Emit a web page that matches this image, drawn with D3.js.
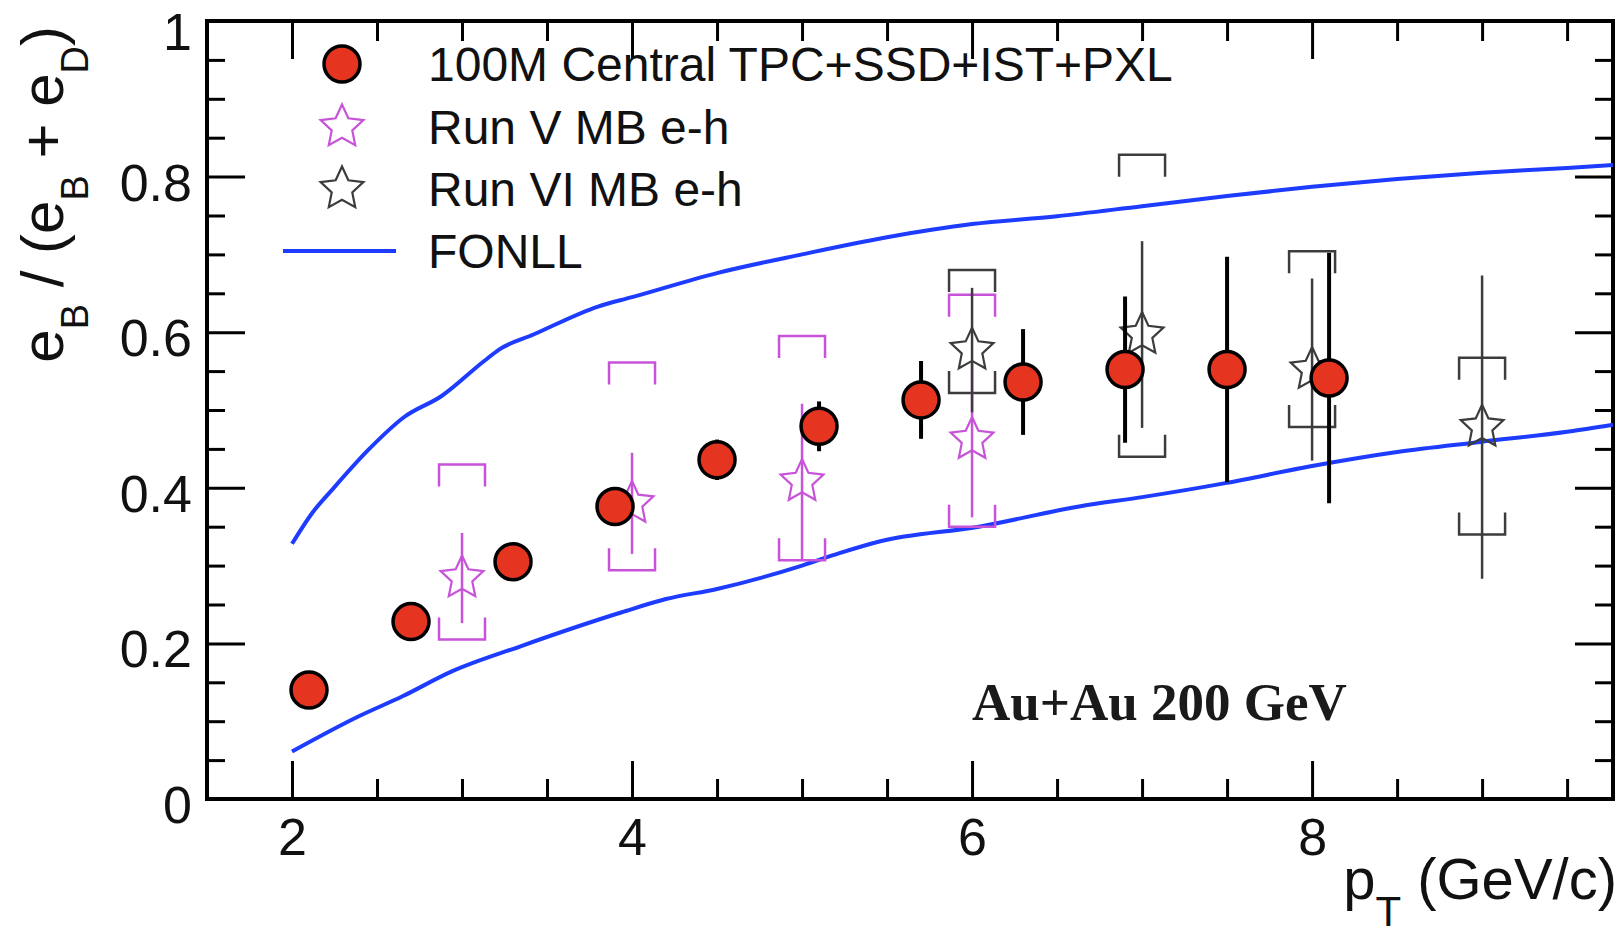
<!DOCTYPE html>
<html>
<head>
<meta charset="utf-8">
<script src="https://cdn.jsdelivr.net/npm/d3@7"></script>
<style>
  body { margin: 0; background: #fff; }
</style>
</head>
<body>
<div id="chart"></div>
<script>
// SVG dims
var width = 1623;
var height = 940;

// 100M Central TPC+SSD+IST+PXL (red circles)
var centralPt = [2.1, 2.7, 3.3, 3.9, 4.5, 5.1, 5.7, 6.3, 6.9, 7.5, 8.1];
var centralVal = [0.140, 0.228, 0.305, 0.376, 0.436, 0.479, 0.513, 0.536, 0.552, 0.552, 0.541];
var centralErr = [0.024, 0.024, 0.024, 0.024, 0.026, 0.032, 0.05, 0.068, 0.094, 0.145, 0.161];

// Run V MB e-h (magenta stars)
var run5Pt = [3, 4, 5, 6];
var run5Val = [0.284, 0.38, 0.408, 0.462];
var run5Stat = [0.058, 0.065, 0.10, 0.10];
var run5SysLow = [0.205, 0.294, 0.307, 0.35];
var run5SysHigh = [0.43, 0.561, 0.595, 0.648];

// Run VI MB e-h (black stars)
var run6Pt = [6, 7, 8, 9];
var run6Val = [0.577, 0.597, 0.552, 0.478];
var run6Stat = [0.08, 0.12, 0.117, 0.195];
var run6SysLow = [0.522, 0.44, 0.478, 0.34];
var run6SysHigh = [0.68, 0.828, 0.704, 0.567];

// FONLL upper and lower curves
var fonllUpperPt = [2.0, 2.12, 2.23, 2.45, 2.66, 2.88, 3.13, 3.22, 3.42, 3.8, 4.0, 4.5, 5.0, 5.5, 6.0, 6.5, 7.0, 7.5, 8.0, 8.5, 9.0, 9.5, 9.77];
var fonllUpperVal = [0.328, 0.368, 0.396, 0.449, 0.491, 0.518, 0.563, 0.578, 0.597, 0.633, 0.645, 0.676, 0.700, 0.722, 0.739, 0.749, 0.762, 0.775, 0.787, 0.797, 0.805, 0.811, 0.815];
var fonllLowerPt = [2.0, 2.39, 2.65, 2.94, 3.34, 3.94, 4.2, 4.5, 5.0, 5.22, 5.455, 6.04, 6.63, 7.0, 7.49, 8.0, 8.5, 8.99, 9.5, 9.77];
var fonllLowerVal = [0.061, 0.106, 0.132, 0.164, 0.196, 0.24, 0.257, 0.27, 0.30, 0.316, 0.331, 0.35, 0.376, 0.388, 0.406, 0.428, 0.446, 0.459, 0.472, 0.481];

// Axis ticks
var xTicks = [2, 4, 6, 8];
var yTicks = [0, 0.2, 0.4, 0.6, 0.8, 1];
var yTickLabels = ["0", "0.2", "0.4", "0.6", "0.8", "1"];

// Legend entries
var legendLabels = ["100M Central TPC+SSD+IST+PXL", "Run V MB e-h", "Run VI MB e-h", "FONLL"];

var sans = "'Liberation Sans', Arial, Helvetica, sans-serif";
var red = "#e5341f";
var magenta = "#c653d8";
var grey = "#3c3c3c";
var blue = "#1d3cff";

var svg = d3.select("#chart").append("svg")
    .attr("width", width).attr("height", height)
    .style("font-family", sans);

var x = d3.scaleLinear().domain([1.5, 9.77]).range([207, 1613]);
var y = d3.scaleLinear().domain([0, 1]).range([799, 21]);

var xMinor = d3.range(3, 20).map(function(i) { return i * 0.5; })
    .filter(function(v) { return v < 9.77 && xTicks.indexOf(v) < 0; });
var yMinor = d3.range(1, 20).filter(function(i) { return i % 4 != 0; })
    .map(function(i) { return i * 0.05; });

function styleAxis(g) {
    g.select(".domain").remove();
    g.selectAll(".tick line").attr("stroke", "#000").attr("stroke-width", 3);
    g.selectAll(".tick text").attr("fill", "#111").attr("font-size", 52)
        .style("font-family", sans);
}

// bottom axis
svg.append("g").attr("transform", "translate(0,799)")
    .call(d3.axisBottom(x).tickValues(xTicks).tickSizeInner(-38).tickSizeOuter(0)
        .tickPadding(19).tickFormat(d3.format("d")))
    .call(styleAxis);
svg.append("g").attr("transform", "translate(0,799)")
    .call(d3.axisBottom(x).tickValues(xMinor).tickSizeInner(-20).tickSizeOuter(0).tickFormat(""))
    .call(styleAxis);
// top axis (mirror)
svg.append("g").attr("transform", "translate(0,21)")
    .call(d3.axisTop(x).tickValues(xTicks).tickSizeInner(-38).tickSizeOuter(0).tickFormat(""))
    .call(styleAxis);
svg.append("g").attr("transform", "translate(0,21)")
    .call(d3.axisTop(x).tickValues(xMinor).tickSizeInner(-20).tickSizeOuter(0).tickFormat(""))
    .call(styleAxis);
// left axis
svg.append("g").attr("transform", "translate(207,0)")
    .call(d3.axisLeft(y).tickValues(yTicks).tickSizeInner(-38).tickSizeOuter(0)
        .tickPadding(15).tickFormat(function(d, i) { return yTickLabels[i]; }))
    .call(styleAxis)
    .call(function(g) {
        g.selectAll(".tick text").attr("dy", function(d) { return d == 1 ? "0.55em" : "0.45em"; });
    });
svg.append("g").attr("transform", "translate(207,0)")
    .call(d3.axisLeft(y).tickValues(yMinor).tickSizeInner(-18).tickSizeOuter(0).tickFormat(""))
    .call(styleAxis);
// right axis (mirror)
svg.append("g").attr("transform", "translate(1613,0)")
    .call(d3.axisRight(y).tickValues(yTicks).tickSizeInner(-38).tickSizeOuter(0).tickFormat(""))
    .call(styleAxis);
svg.append("g").attr("transform", "translate(1613,0)")
    .call(d3.axisRight(y).tickValues(yMinor).tickSizeInner(-18).tickSizeOuter(0).tickFormat(""))
    .call(styleAxis);

// frame
svg.append("rect")
    .attr("x", x(1.5)).attr("y", y(1))
    .attr("width", x(9.77) - x(1.5)).attr("height", y(0) - y(1))
    .attr("fill", "none").attr("stroke", "#000").attr("stroke-width", 4);

// FONLL curves
var line = d3.line()
    .curve(d3.curveMonotoneX)
    .x(function(d) { return x(d[0]); })
    .y(function(d) { return y(d[1]); });
[d3.zip(fonllUpperPt, fonllUpperVal), d3.zip(fonllLowerPt, fonllLowerVal)].forEach(function(pts) {
    svg.append("path").attr("d", line(pts))
        .attr("fill", "none").attr("stroke", blue).attr("stroke-width", 4);
});

// open star marker
function starPath(R, k) {
    var pts = [];
    for (var i = 0; i < 10; i++) {
        var a = -Math.PI / 2 + i * Math.PI / 5;
        var r = i % 2 == 0 ? R : R * k;
        pts.push([r * Math.cos(a), r * Math.sin(a)]);
    }
    return "M" + pts.map(function(p) { return p[0].toFixed(2) + "," + p[1].toFixed(2); }).join("L") + "Z";
}
var star = starPath(22.5, 0.48);

// systematic brackets
function brackets(pts, lows, highs, color) {
    var w = 23, arm = 22;
    svg.append("g").selectAll("path")
        .data(pts).enter().append("path")
        .attr("d", function(d, i) {
            var cx = x(d), top = y(highs[i]), bot = y(lows[i]);
            return "M" + (cx - w) + "," + (top + arm) + "V" + top + "H" + (cx + w) + "V" + (top + arm) +
                "M" + (cx - w) + "," + (bot - arm) + "V" + bot + "H" + (cx + w) + "V" + (bot - arm);
        })
        .attr("fill", "none").attr("stroke", color).attr("stroke-width", 2.5);
}

// stat bars
function statBars(pts, vals, errs, color, w) {
    svg.append("g").selectAll("line")
        .data(pts).enter().append("line")
        .attr("x1", function(d) { return x(d); })
        .attr("x2", function(d) { return x(d); })
        .attr("y1", function(d, i) { return y(vals[i] + errs[i]); })
        .attr("y2", function(d, i) { return y(vals[i] - errs[i]); })
        .attr("stroke", color).attr("stroke-width", w);
}

function stars(pts, vals, color) {
    svg.append("g").selectAll("path")
        .data(pts).enter().append("path")
        .attr("d", star)
        .attr("transform", function(d, i) { return "translate(" + x(d) + "," + y(vals[i]) + ")"; })
        .attr("fill", "none").attr("stroke", color).attr("stroke-width", 2.2);
}

brackets(run5Pt, run5SysLow, run5SysHigh, magenta);
brackets(run6Pt, run6SysLow, run6SysHigh, grey);
statBars(run5Pt, run5Val, run5Stat, magenta, 2.5);
statBars(run6Pt, run6Val, run6Stat, grey, 2.5);
stars(run5Pt, run5Val, magenta);
stars(run6Pt, run6Val, grey);

// central points
statBars(centralPt, centralVal, centralErr, "#000", 4);
svg.append("g").selectAll("circle")
    .data(centralPt).enter().append("circle")
    .attr("cx", function(d) { return x(d); })
    .attr("cy", function(d, i) { return y(centralVal[i]); })
    .attr("r", 18)
    .attr("fill", red).attr("stroke", "#000").attr("stroke-width", 3.5);

// legend
var legend = svg.append("g");
var rowY = [64, 127, 189, 251];
legend.append("circle").attr("cx", 342).attr("cy", rowY[0]).attr("r", 18)
    .attr("fill", red).attr("stroke", "#000").attr("stroke-width", 3.5);
legend.append("path").attr("d", star).attr("transform", "translate(342," + rowY[1] + ")")
    .attr("fill", "none").attr("stroke", magenta).attr("stroke-width", 2.2);
legend.append("path").attr("d", star).attr("transform", "translate(342," + rowY[2] + ")")
    .attr("fill", "none").attr("stroke", grey).attr("stroke-width", 2.2);
legend.append("line").attr("x1", 283).attr("x2", 396).attr("y1", rowY[3]).attr("y2", rowY[3])
    .attr("stroke", blue).attr("stroke-width", 4);
legend.selectAll("text").data(legendLabels).enter().append("text")
    .attr("x", 428)
    .attr("y", function(d, i) { return rowY[i] + 17; })
    .attr("font-size", 48).attr("fill", "#111")
    .text(function(d) { return d; });

// collision system label
svg.append("text")
    .attr("x", 972).attr("y", 720)
    .style("font-family", "'Liberation Serif', 'Times New Roman', serif")
    .attr("font-weight", "bold").attr("font-size", 53).attr("fill", "#1a1a1a")
    .text("Au+Au 200 GeV");

// x axis title
var xt = svg.append("text")
    .attr("x", 1617).attr("y", 899)
    .attr("text-anchor", "end").attr("font-size", 58).attr("fill", "#111");
xt.append("tspan").text("p");
xt.append("tspan").attr("font-size", 42).attr("dy", 27).text("T");
xt.append("tspan").attr("dy", -27).text(" (GeV/c)");

// y axis title
var yt = svg.append("text")
    .attr("transform", "translate(63,26) rotate(-90)")
    .attr("text-anchor", "end").attr("font-size", 60).attr("fill", "#111");
yt.append("tspan").text("e");
yt.append("tspan").attr("font-size", 38).attr("dy", 25).text("B");
yt.append("tspan").attr("dy", -25).text(" / (e");
yt.append("tspan").attr("font-size", 38).attr("dy", 25).text("B");
yt.append("tspan").attr("dy", -25).text(" + e");
yt.append("tspan").attr("font-size", 38).attr("dy", 25).text("D");
yt.append("tspan").attr("dy", -25).text(")");
</script>
</body>
</html>
